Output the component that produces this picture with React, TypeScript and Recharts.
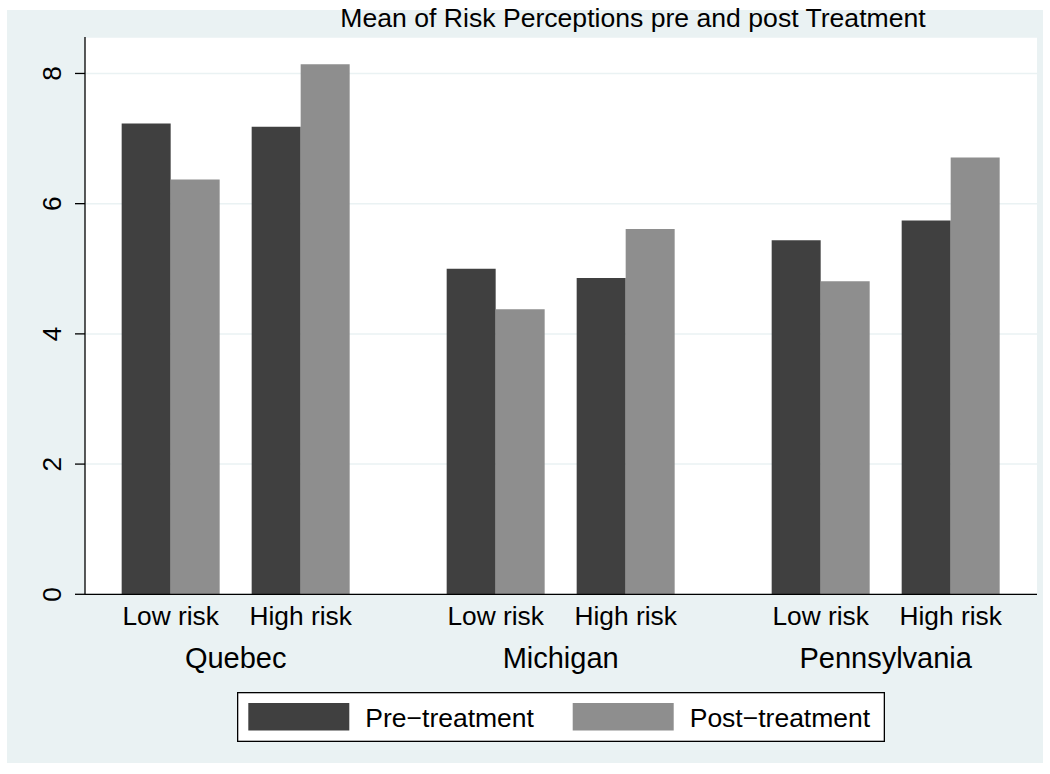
import { Bar, BarChart, CartesianGrid, Legend, XAxis, YAxis } from "recharts";

const states = ["Quebec", "Michigan", "Pennsylvania"];
const riskLevels = ["Low risk", "High risk"];
const seriesNames = ["Pre\u2212treatment", "Post\u2212treatment"];
// order: Quebec low/high, Michigan low/high, Pennsylvania low/high
const preTreatment = [7.23, 7.18, 5.0, 4.86, 5.44, 5.74];
const postTreatment = [6.37, 8.14, 4.38, 5.61, 4.81, 6.71];
const yTicks = [0, 2, 4, 6, 8];
const titleText = "Mean of Risk Perceptions pre and post Treatment";

const FONT = '"Liberation Sans", Arial, Helvetica, sans-serif';
const BG = "#eaf2f3";
const PRE = "#404040";
const POST = "#8e8e8e";
const GROUP_STEP = 2.5; // slot distance from one state to the next
const X_DOMAIN: [number, number] = [0.341, 7.664];
const Y_DOMAIN: [number, number] = [0, 8.56];

const rows = states.flatMap((state, g) =>
  riskLevels.map((risk, k) => {
    const i = g * riskLevels.length + k;
    return {
      state,
      risk,
      slot: 1 + g * GROUP_STEP + k,
      pre: preTreatment[i],
      post: postTreatment[i],
    };
  })
);
const groupCenters = states.map(
  (_, g) => 1 + g * GROUP_STEP + (riskLevels.length - 1) / 2
);

function RiskTick({ x, y, payload }: any) {
  const row = rows.find((r) => r.slot === payload.value);
  return (
    <text x={x} y={y + 30.7} textAnchor="middle" fontSize={26.3} fontFamily={FONT} fill="#000">
      {row ? row.risk : ""}
    </text>
  );
}

function GroupTick({ x, y, payload }: any) {
  const idx = groupCenters.indexOf(payload.value);
  return (
    <text x={x} y={y + 34} textAnchor="middle" fontSize={29} fontFamily={FONT} fill="#000">
      {states[idx] ?? ""}
    </text>
  );
}

function YTick({ x, y, payload }: any) {
  return (
    <text
      x={x}
      y={y}
      transform={`rotate(-90 ${x} ${y})`}
      textAnchor="middle"
      fontSize={26.3}
      fontFamily={FONT}
      fill="#000"
    >
      {payload.value}
    </text>
  );
}

function LegendBox({ payload }: any) {
  // keep the series order, not the alphabetical one
  const items = [...(payload ?? [])].sort(
    (a: any, b: any) => seriesNames.indexOf(a.value) - seriesNames.indexOf(b.value)
  );
  return (
    <svg width={648} height={50} style={{ display: "block" }}>
      <rect x={0.65} y={0.65} width={646.7} height={48.7} fill="#fff" stroke="#000" strokeWidth={1.3} />
      {items.map((p: any, i: number) => (
        <g key={p.value} transform={`translate(${11.3 + i * 324.4},0)`}>
          <rect x={0} y={11} width={101} height={27.5} fill={p.color} />
          <text x={117} y={35} fontSize={26.5} fontFamily={FONT} fill="#000">
            {p.value}
          </text>
        </g>
      ))}
    </svg>
  );
}

export default function App() {
  return (
    <div
      style={{
        position: "absolute",
        left: 0,
        top: 0,
        width: 1050,
        height: 774,
        background: "#fff",
        fontFamily: FONT,
      }}
    >
      <div
        style={{ position: "absolute", left: 7, top: 10, width: 1036, height: 753, background: BG }}
      />
      <div style={{ position: "absolute", left: 0, top: 0 }}>
        <BarChart
          width={1050}
          height={774}
          data={rows}
          margin={{ top: 37, right: 13, bottom: 94.7, left: 0 }}
          barGap={0}
          barSize={49}
        >
          <CartesianGrid vertical={false} stroke={BG} strokeWidth={1.5} fill="#fff" />
          <XAxis
            dataKey="slot"
            type="number"
            domain={X_DOMAIN}
            ticks={rows.map((r) => r.slot)}
            interval={0}
            tick={<RiskTick />}
            tickLine={false}
            tickSize={0}
            tickMargin={0}
            height={40}
            axisLine={{ stroke: "#000", strokeWidth: 1.3 }}
          />
          <XAxis
            xAxisId="group"
            dataKey="slot"
            type="number"
            domain={X_DOMAIN}
            ticks={groupCenters}
            interval={0}
            tick={<GroupTick />}
            tickLine={false}
            tickSize={0}
            tickMargin={0}
            height={45}
            axisLine={false}
          />
          <YAxis
            type="number"
            domain={Y_DOMAIN}
            ticks={yTicks}
            interval={0}
            width={85}
            tick={<YTick />}
            tickSize={10}
            tickMargin={14}
            tickLine={{ stroke: "#000", strokeWidth: 1.3 }}
            axisLine={{ stroke: "#000", strokeWidth: 1.3 }}
          />
          <Legend
            layout="vertical"
            align="center"
            verticalAlign="middle"
            content={<LegendBox />}
            wrapperStyle={{ left: 237, top: 692, width: 648, height: 50 }}
          />
          <Bar dataKey="pre" name={seriesNames[0]} fill={PRE} isAnimationActive={false} />
          <Bar dataKey="post" name={seriesNames[1]} fill={POST} isAnimationActive={false} />
        </BarChart>
      </div>
      <svg
        width={1050}
        height={40}
        style={{ position: "absolute", left: 0, top: 0, pointerEvents: "none" }}
      >
        <text x={633} y={27.3} textAnchor="middle" fontSize={26.6} fontFamily={FONT} fill="#000">
          {titleText}
        </text>
      </svg>
    </div>
  );
}
